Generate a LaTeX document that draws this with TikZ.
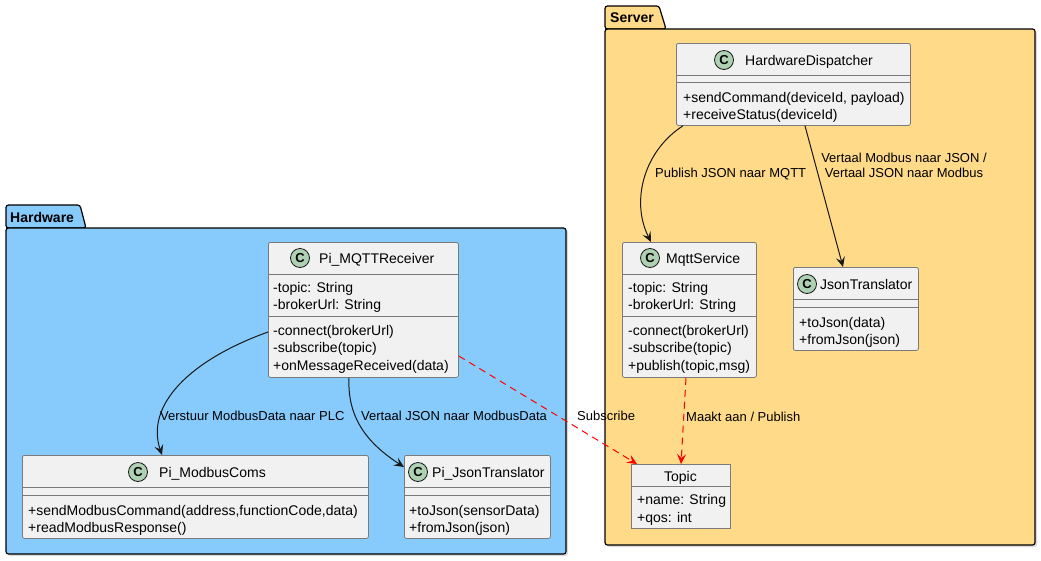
\documentclass[tikz,border=0pt]{standalone}
\usepackage{fontspec}
\setmainfont{Liberation Sans}
\usetikzlibrary{arrows.meta,calc}

\definecolor{hwfill}{HTML}{87CBFC}
\definecolor{srvfill}{HTML}{FFDA89}
\definecolor{clsfill}{HTML}{F1F1F1}
\definecolor{clsline}{HTML}{7A7A7A}
\definecolor{spotfill}{HTML}{ADD1B2}
\definecolor{ink}{HTML}{181818}
\definecolor{depred}{HTML}{FF0000}

\tikzset{
  pkg/.style={draw=black, line width=1.2pt, rounded corners=2.5pt},
  pkgshadow/.style={fill=black!15, rounded corners=2.5pt},
  pkgtitle/.style={font=\fontsize{14}{16}\selectfont\bfseries, anchor=west, inner sep=0pt},
  cls/.style={draw=clsline, fill=clsfill, line width=0.8pt, rounded corners=2pt, inner sep=0pt},
  plaincls/.style={draw=clsline, fill=clsfill, line width=0.8pt, inner sep=0pt},
  divider/.style={draw=clsline, line width=0.8pt},
  spot/.style={circle, draw=ink, fill=spotfill, line width=0.8pt, minimum size=19pt, inner sep=0pt,
               font=\fontsize{13}{13}\selectfont\bfseries},
  clsname/.style={font=\fontsize{14}{16}\selectfont, anchor=west, inner sep=0pt, text height=12pt, text depth=2pt},
  member/.style={font=\fontsize{14}{16}\selectfont, anchor=west, inner sep=0pt, text height=12pt, text depth=2pt},
  edgelabel/.style={font=\fontsize{13}{15}\selectfont, inner sep=0pt, text height=11.5pt, text depth=2.5pt},
  arr/.style={draw=ink, line width=1pt, -{Stealth[length=10pt,width=9pt,inset=4pt]}},
  deparr/.style={draw=depred, line width=1pt, dash pattern=on 7pt off 5pt,
                 -{Stealth[length=10pt,width=9pt,inset=4pt]}},
}

\begin{document}
\begin{tikzpicture}[x=1pt, y=-1pt]
\useasboundingbox (0,0) rectangle (1041,560);

% ---------------- packages ----------------
% Hardware
\fill[pkgshadow] (8,230) rectangle (568,556);
\filldraw[pkg, fill=hwfill] (6,228) -- (6,205) -- (80,205) -- (86,228) -- cycle;
\filldraw[pkg, fill=hwfill] (6,228) rectangle (566,554);
\node[pkgtitle] (hwtitle) at (10,217) {Hardware};

% Server
\fill[pkgshadow] (607,31) rectangle (1037,547);
\filldraw[pkg, fill=srvfill] (605,29) -- (605,6) -- (659,6) -- (666,29) -- cycle;
\filldraw[pkg, fill=srvfill] (605,29) rectangle (1035,545);
\node[pkgtitle] (srvtitle) at (610,18) {Server};

% ---------------- Server classes ----------------
% HardwareDispatcher
\node[cls, minimum width=234pt, minimum height=82pt, anchor=north west] (hd) at (676,43) {};
\draw[divider] (676,75) -- (910,75);
\draw[divider] (676,82) -- (910,82);
\node[spot] (hdspot) at (724,60) {C};
\node[clsname] (hdname) at (745,60) {HardwareDispatcher};
\node[member] (hdm1) at (683,97) {+sendCommand(deviceId, payload)};
\node[member] (hdm2) at (683,114) {+receiveStatus(deviceId)};

% MqttService
\node[cls, minimum width=134pt, minimum height=135pt, anchor=north west] (mqtt) at (622,242) {};
\draw[divider] (622,274) -- (756,274);
\draw[divider] (622,316) -- (756,316);
\node[spot] (mqspot) at (650,258) {C};
\node[clsname] (mqname) at (666,258) {MqttService};
\node[member] (mqf1) at (628,287) {-topic: String};
\node[member] (mqf2) at (628,304) {-brokerUrl: String};
\node[member] (mqm1) at (628,330) {-connect(brokerUrl)};
\node[member] (mqm2) at (628,347) {-subscribe(topic)};
\node[member] (mqm3) at (628,365) {+publish(topic,msg)};

% JsonTranslator
\node[cls, minimum width=125pt, minimum height=83pt, anchor=north west] (jt) at (793,267) {};
\draw[divider] (793,299) -- (918,299);
\draw[divider] (793,307) -- (918,307);
\node[spot] (jtspot) at (807,284) {C};
\node[clsname] (jtname) at (820,284) {JsonTranslator};
\node[member] (jtm1) at (799,322) {+toJson(data)};
\node[member] (jtm2) at (799,339) {+fromJson(json)};

% Topic
\node[plaincls, minimum width=99pt, minimum height=64pt, anchor=north west] (topic) at (631,464) {};
\draw[divider] (631,486) -- (730,486);
\node[clsname, anchor=center] (tpname) at (680.5,476) {Topic};
\node[member] (tpf1) at (637,499) {+name: String};
\node[member] (tpf2) at (637,517) {+qos: int};

% ---------------- Hardware classes ----------------
% Pi_MQTTReceiver
\node[cls, minimum width=190pt, minimum height=135pt, anchor=north west] (pimqtt) at (268,242) {};
\draw[divider] (268,274) -- (458,274);
\draw[divider] (268,316) -- (458,316);
\node[spot] (pqspot) at (300,258) {C};
\node[clsname] (pqname) at (319,258) {Pi\_MQTTReceiver};
\node[member] (pqf1) at (273,287) {-topic: String};
\node[member] (pqf2) at (273,304) {-brokerUrl: String};
\node[member] (pqm1) at (273,330) {-connect(brokerUrl)};
\node[member] (pqm2) at (273,347) {-subscribe(topic)};
\node[member] (pqm3) at (273,365) {+onMessageReceived(data)};

% Pi_ModbusComs
\node[cls, minimum width=346pt, minimum height=83pt, anchor=north west] (pimod) at (22,455) {};
\draw[divider] (22,487) -- (368,487);
\draw[divider] (22,495) -- (368,495);
\node[spot] (pmspot) at (138,472) {C};
\node[clsname] (pmname) at (159,472) {Pi\_ModbusComs};
\node[member] (pmm1) at (28,510) {+sendModbusCommand(address,functionCode,data)};
\node[member] (pmm2) at (28,527) {+readModbusResponse()};

% Pi_JsonTranslator
\node[cls, minimum width=146pt, minimum height=83pt, anchor=north west] (pijson) at (404,455) {};
\draw[divider] (404,487) -- (550,487);
\draw[divider] (404,495) -- (550,495);
\node[spot] (pjspot) at (418,472) {C};
\node[clsname] (pjname) at (432,472) {Pi\_JsonTranslator};
\node[member] (pjm1) at (409,510) {+toJson(sensorData)};
\node[member] (pjm2) at (409,527) {+fromJson(json)};

% ---------------- connectors ----------------
\draw[arr] ($(hd.south west)+(7,0)$) .. controls (645,150) and (630,200) .. ($(mqtt.north west)+(29,0)$);
\draw[arr] ($(hd.south west)+(129,0)$) -- ($(jt.north west)+(50,0)$);
\draw[deparr] ($(mqtt.south west)+(64,0)$) -- ($(topic.north west)+(50,0)$);

\draw[arr] ($(pimqtt.north west)+(0,90)$) .. controls (190,360) and (145,405) .. ($(pimod.north west)+(140,0)$);
\draw[arr] ($(pimqtt.south west)+(81,0)$) .. controls (347,420) and (370,445) .. ($(pijson.north west)+(0,12)$);
\draw[deparr] ($(pimqtt.north east)+(0,114)$) -- ($(topic.north west)+(6,0)$);

% ---------------- connector labels ----------------
\node[edgelabel, anchor=west] (lbpub) at (655,173) {Publish JSON naar MQTT};
\node[edgelabel, align=center] (lbtrans) at (904,172.5) {Vertaal Modbus naar JSON /\\Vertaal JSON naar Modbus};
\node[edgelabel, anchor=west] (lbmaakt) at (686,417) {Maakt aan / Publish};
\node[edgelabel, anchor=west] (lbverst) at (160,416) {Verstuur ModbusData naar PLC};
\node[edgelabel, anchor=west] (lbvert) at (361,416) {Vertaal JSON naar ModbusData};
\node[edgelabel, anchor=west] (lbsub) at (577,416) {Subscribe};
\end{tikzpicture}
\end{document}
